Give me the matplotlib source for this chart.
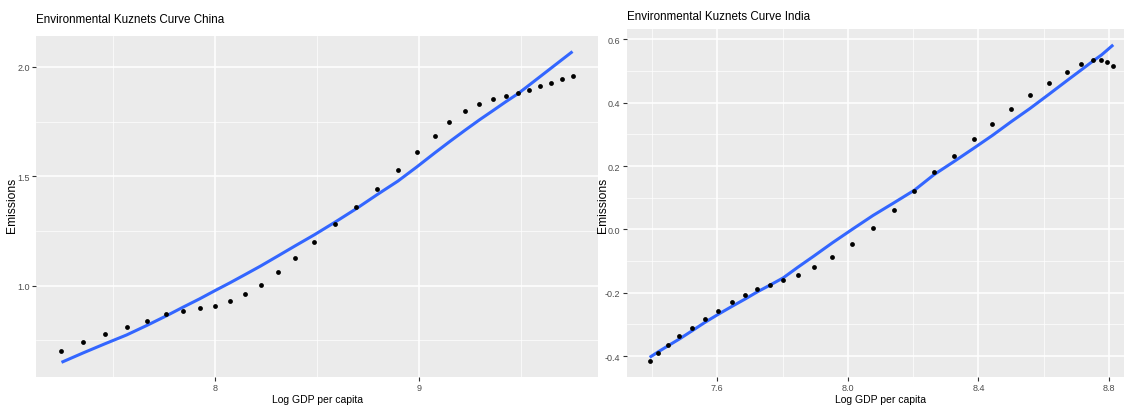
import numpy as np
import matplotlib.pyplot as plt
from matplotlib.ticker import FixedLocator

# China: log GDP per capita, emissions and fitted values
china_gdp = [7.249, 7.355, 7.460, 7.568, 7.666, 7.762, 7.847, 7.926, 8.000, 8.074,
             8.149, 8.225, 8.308, 8.394, 8.489, 8.589, 8.694, 8.796, 8.898, 8.991,
             9.079, 9.151, 9.228, 9.298, 9.364, 9.426, 9.486, 9.542, 9.596, 9.650,
             9.704, 9.754]
china_emis = [0.703, 0.741, 0.778, 0.813, 0.840, 0.869, 0.883, 0.896, 0.909, 0.930,
              0.960, 1.005, 1.061, 1.128, 1.202, 1.280, 1.362, 1.444, 1.527, 1.610,
              1.685, 1.749, 1.799, 1.830, 1.851, 1.865, 1.880, 1.894, 1.911, 1.927,
              1.945, 1.960]
china_fit = [0.650, 0.693, 0.734, 0.775, 0.818, 0.862, 0.903, 0.940, 0.977, 1.013,
             1.051, 1.090, 1.135, 1.182, 1.233, 1.290, 1.352, 1.416, 1.478, 1.543,
             1.607, 1.658, 1.711, 1.758, 1.800, 1.840, 1.877, 1.917, 1.956, 1.995,
             2.034, 2.070]

# India
india_gdp = [7.393, 7.420, 7.450, 7.484, 7.523, 7.563, 7.603, 7.645, 7.685, 7.723,
             7.763, 7.802, 7.846, 7.896, 7.953, 8.013, 8.077, 8.141, 8.204, 8.264,
             8.326, 8.385, 8.443, 8.500, 8.558, 8.615, 8.670, 8.714, 8.750, 8.777,
             8.794, 8.813]
india_emis = [-0.417, -0.391, -0.364, -0.338, -0.312, -0.284, -0.257, -0.230, -0.207, -0.188,
              -0.174, -0.160, -0.143, -0.120, -0.086, -0.045, 0.005, 0.060, 0.120, 0.180,
              0.233, 0.285, 0.334, 0.380, 0.424, 0.464, 0.497, 0.521, 0.535, 0.535,
              0.528, 0.517]
india_fit = [-0.404, -0.386, -0.367, -0.346, -0.320, -0.293, -0.268, -0.243, -0.220, -0.197,
             -0.175, -0.153, -0.120, -0.084, -0.042, 0.000, 0.044, 0.084, 0.124, 0.173,
             0.215, 0.256, 0.297, 0.340, 0.382, 0.426, 0.469, 0.503, 0.531, 0.551,
             0.566, 0.583]

china_xticks = [8, 9]
china_xminor = [7.5, 8.5, 9.5]
china_yticks = [1.0, 1.5, 2.0]
china_yminor = [0.75, 1.25, 1.75]
india_xticks = [7.6, 8.0, 8.4, 8.8]
india_xminor = [7.4, 7.8, 8.2, 8.6]
india_yticks = [-0.4, -0.2, 0.0, 0.2, 0.4, 0.6]
india_yminor = [-0.3, -0.1, 0.1, 0.3, 0.5]

plt.rcParams['font.family'] = ['Liberation Sans', 'DejaVu Sans']

W, H = 1124, 410
fig = plt.figure(figsize=(W / 100, H / 100), dpi=100)


def gg_axes(rect, x, y, fit, xticks, xminor, yticks, yminor, xlim, ylim,
            xlab_x, ylab_x, fmt):
    ax = fig.add_axes(rect)
    ax.set_facecolor('#EBEBEB')
    for s in ax.spines.values():
        s.set_visible(False)
    ax.xaxis.set_major_locator(FixedLocator(xticks))
    ax.yaxis.set_major_locator(FixedLocator(yticks))
    ax.xaxis.set_minor_locator(FixedLocator(xminor))
    ax.yaxis.set_minor_locator(FixedLocator(yminor))
    ax.set_xticklabels([fmt[0].format(v) for v in xticks])
    ax.set_yticklabels([fmt[1].format(v) for v in yticks])
    ax.grid(which='major', color='white', linewidth=1.1)
    ax.grid(which='minor', color='white', linewidth=0.5)
    ax.set_axisbelow(True)
    ax.tick_params(which='major', length=3, width=0.8, color='#333333',
                   labelsize=6.5, labelcolor='#4D4D4D', pad=1.5)
    ax.tick_params(which='minor', length=0)
    ax.plot(x, fit, color='#3366FF', linewidth=2.2, solid_capstyle='butt', zorder=3)
    ax.scatter(x, y, s=12, color='black', zorder=4, linewidths=0)
    ax.set_xlim(*xlim)
    ax.set_ylim(*ylim)
    ax.set_xlabel('Log GDP per capita', fontsize=7.5, va='center')
    ax.xaxis.set_label_coords(xlab_x, 10 / H, transform=fig.transFigure)
    ax.set_ylabel('Emissions', fontsize=8.7, va='center')
    ax.yaxis.set_label_coords(ylab_x, 0.5, transform=fig.transFigure)
    return ax


gg_axes([36 / W, 32 / H, 562 / W, 341 / H], china_gdp, china_emis, china_fit,
        china_xticks, china_xminor, china_yticks, china_yminor,
        (7.124, 9.879), (0.583, 2.141), 317 / W, 12 / W, ('{:.0f}', '{:.1f}'))
gg_axes([626.5 / W, 32 / H, 1 - 626.5 / W, 348 / H], india_gdp, india_emis, india_fit,
        india_xticks, india_xminor, india_yticks, india_yminor,
        (7.322, 8.846), (-0.466, 0.633), 881 / W, 603 / W, ('{:.1f}', '{:.1f}'))

fig.text(36 / W, 1 - 20 / H, 'Environmental Kuznets Curve China', fontsize=8.4, va='center')
fig.text(627 / W, 1 - 17 / H, 'Environmental Kuznets Curve India', fontsize=8.4, va='center')

fig.savefig('out.png', dpi=100)
